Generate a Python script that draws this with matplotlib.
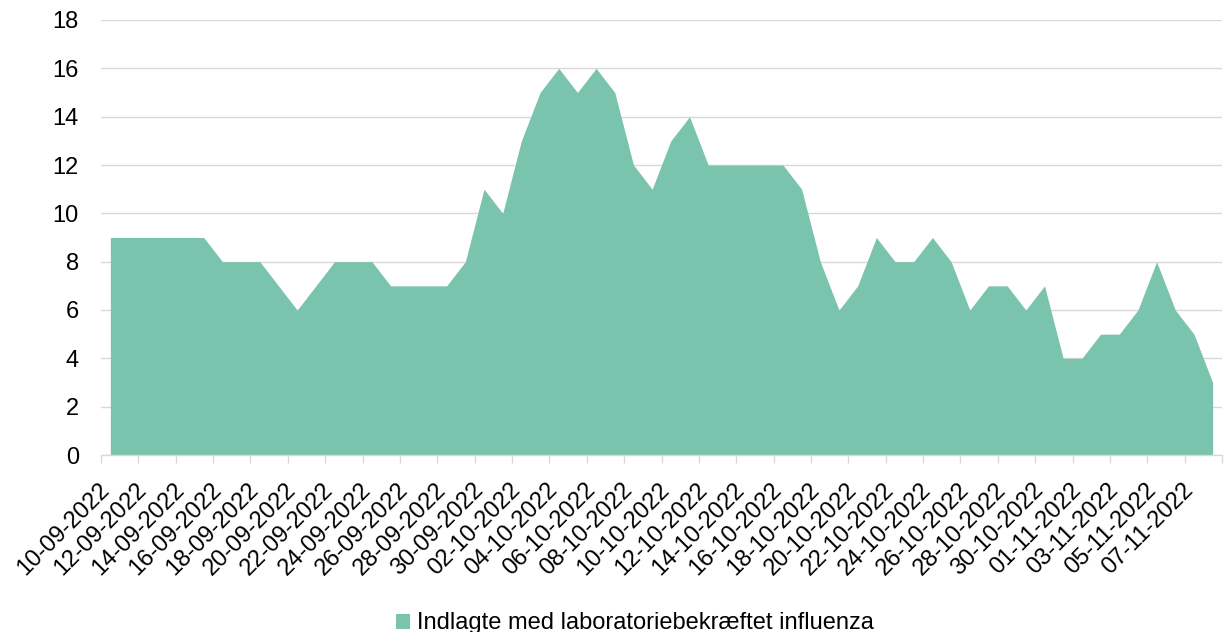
import matplotlib
matplotlib.use("Agg")
import matplotlib.pyplot as plt
import matplotlib.transforms as mtransforms
import numpy as np
import pandas as pd

plt.rcParams["font.family"] = ["Liberation Sans", "DejaVu Sans"]

START, END = "2022-09-10", "2022-11-08"
admitted = [9, 9, 9, 9, 9, 9, 8, 8, 8, 7,
            6, 7, 8, 8, 8, 7, 7, 7, 7, 8,
            11, 10, 13, 15, 16, 15, 16, 15, 12, 11,
            13, 14, 12, 12, 12, 12, 12, 11, 8, 6,
            7, 9, 8, 8, 9, 8, 6, 7, 7, 6,
            7, 4, 4, 5, 5, 6, 8, 6, 5, 3]
LEGEND = "Indlagte med laboratoriebekræftet influenza"
AREA = "#7AC4AE"
GRID = "#D9D9D9"

dates = pd.date_range(START, END, freq="D")
labels = dates.strftime("%d-%m-%Y")
x = np.arange(len(dates))

fig = plt.figure(figsize=(12.3, 6.32), dpi=100)
ax = fig.add_axes([101 / 1230, 1 - 455 / 632, 1121 / 1230, 435 / 632])

ax.fill_between(x, admitted, 0, color=AREA, lw=0, label=LEGEND)

ax.set_xlim(-0.5, len(x) - 0.5)
ax.set_ylim(0, 18)
ax.set_yticks(range(0, 19, 2))
ax.tick_params(axis="y", length=0, pad=16, labelsize=17)
ax.yaxis.grid(True, color=GRID, lw=1.0)
ax.set_axisbelow(True)

ax.set_xticks(x[::2])
ax.set_xticklabels(labels[::2], rotation=45, ha="right", va="baseline",
                   rotation_mode="anchor", fontsize=17)
shift = mtransforms.ScaledTranslation(5 / 100, 0, fig.dpi_scale_trans)
for lab in ax.get_xticklabels():
    lab.set_transform(lab.get_transform() + shift)
ax.set_xticks(np.arange(-0.5, len(x), 2), minor=True)
ax.tick_params(axis="x", which="major", length=0, pad=26)
ax.tick_params(axis="x", which="minor", length=6, color=GRID, width=1.0)

for s in ["top", "right", "left"]:
    ax.spines[s].set_visible(False)
ax.spines["bottom"].set_color(GRID)
ax.spines["bottom"].set_linewidth(1.0)

fig.legend(loc="lower center", bbox_to_anchor=(0.516, -0.03), frameon=False, fontsize=17,
           handlelength=0.6, handleheight=0.6, handletextpad=0.3, borderpad=0.2)

fig.savefig("out.png", dpi=100, facecolor="white")
